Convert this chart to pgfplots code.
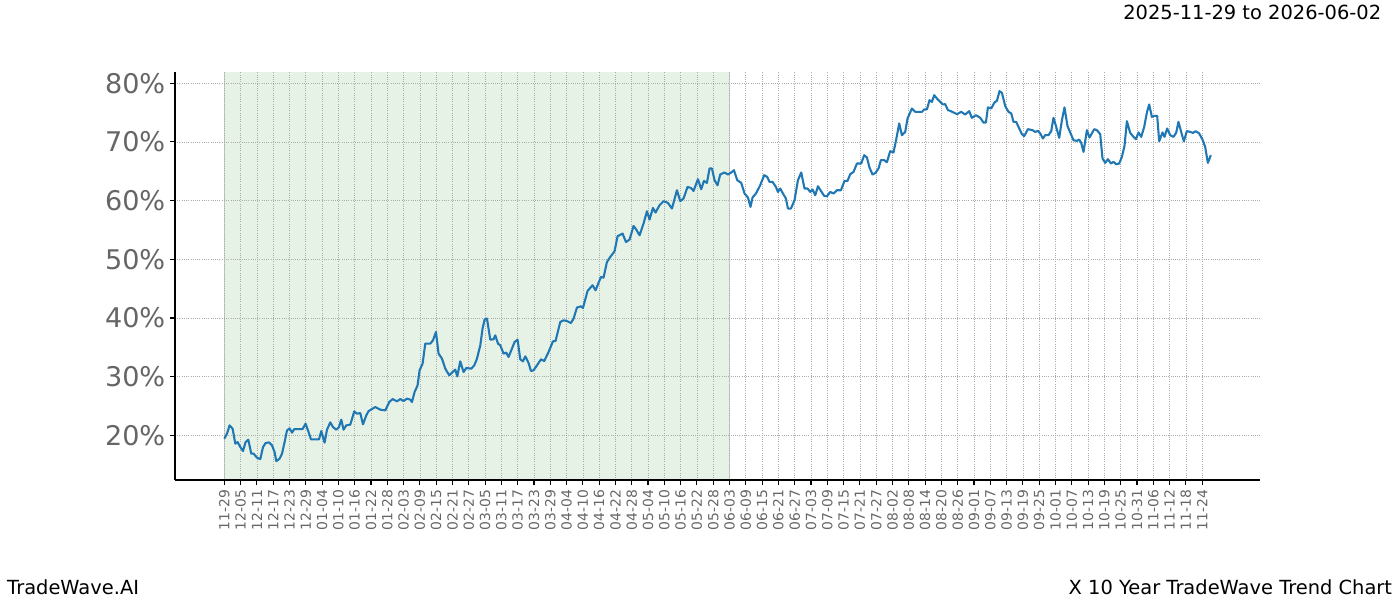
\documentclass[border=0pt]{standalone}
\usepackage{pgfplots}
\pgfplotsset{compat=1.18}
\usepackage{fontspec}
\setmainfont{DejaVu Sans}
\definecolor{trend}{HTML}{1F77B4}
\definecolor{shade}{RGB}{230,242,230}
\definecolor{lab}{RGB}{102,102,102}
\pgfplotstableread{
day val
0 19.44
0.99 20.29
1.95 21.71
3.06 21.14
4.05 18.59
4.90 18.86
5.89 18.01
6.88 17.33
7.84 18.86
8.83 19.27
9.94 16.88
10.79 16.88
12.04 16.20
13.25 15.96
14.25 18.01
15.20 18.69
16.45 18.81
17.56 18.30
18.52 17.15
19.14 15.62
20.36 16.03
21.24 16.88
22.20 18.86
23.08 20.85
24.04 21.19
24.92 20.46
25.77 21.08
27.35 21.08
28.82 21.08
29.93 22.00
31.03 20.56
31.91 19.32
33.50 19.32
34.86 19.32
35.71 20.73
36.92 18.76
37.80 20.97
39.02 22.22
40.01 21.42
41.23 20.97
42.22 21.42
43.07 22.68
43.91 20.97
44.91 21.71
46.38 21.83
47.85 24.09
48.85 23.70
50.06 23.80
51.06 21.88
52.27 23.41
53.12 24.14
55.58 24.83
57.42 24.38
59.27 24.26
60.74 25.68
61.95 26.19
63.57 25.80
64.79 26.19
66.00 25.85
67.25 26.26
68.47 26.09
69.09 25.68
70.05 27.38
71.15 28.52
71.89 31.08
73.00 32.22
73.99 35.63
75.83 35.63
76.82 36.19
77.93 37.61
78.88 33.93
80.14 33.07
81.35 31.37
82.82 30.23
84.04 30.79
85.03 31.20
85.77 30.06
86.87 32.61
88.09 30.79
89.08 31.47
90.92 31.37
92.03 31.93
93.02 33.07
94.24 35.34
95.08 38.19
95.82 39.72
96.70 39.89
97.92 36.31
99.13 36.36
99.76 37.05
100.75 35.63
101.60 35.34
102.81 33.93
103.81 34.10
104.65 33.35
105.90 34.78
106.86 35.90
107.97 36.31
108.96 32.96
109.95 32.61
110.80 33.47
112.02 32.33
112.90 30.96
113.86 31.08
115.11 31.93
116.58 32.96
117.79 32.67
119.38 34.20
120.99 36.02
121.95 36.08
123.68 39.31
124.90 39.60
126.15 39.48
127.62 39.14
128.58 39.89
129.83 41.77
131.30 41.99
132.04 41.70
133.73 44.60
135.57 45.57
136.68 44.72
138.66 46.98
139.62 46.88
140.87 49.54
142.09 50.39
143.67 51.36
144.78 53.92
146.62 54.38
147.87 52.95
149.20 53.36
150.67 55.68
151.66 55.06
152.88 54.09
154.35 56.09
155.60 58.18
156.56 56.77
157.81 58.74
158.77 57.96
160.24 59.21
161.71 59.89
163.33 59.60
164.80 58.64
166.64 61.76
167.86 59.89
169.07 60.35
170.54 62.32
171.79 62.15
172.75 61.64
174.37 63.64
175.58 61.93
176.58 63.35
177.68 63.01
178.64 65.46
179.52 65.46
180.48 63.47
181.58 62.61
182.58 64.44
184.16 64.78
185.41 64.44
186.63 64.78
187.62 65.17
188.84 63.47
190.31 63.01
191.53 61.20
192.78 60.52
193.73 58.92
194.47 60.52
195.72 61.20
197.30 62.61
198.77 64.32
199.88 64.03
200.72 63.18
201.83 63.18
203.08 62.32
203.81 61.47
204.66 62.05
205.66 61.20
206.76 60.35
207.50 58.64
208.60 58.64
209.93 60.06
211.18 63.47
212.40 64.78
213.61 62.05
214.72 62.05
215.72 61.47
216.56 61.88
217.56 60.91
218.55 62.44
219.65 61.64
220.87 60.79
221.86 60.74
223.08 61.47
224.29 61.20
225.54 61.76
227.01 61.76
228.34 63.35
229.44 63.35
230.43 64.49
231.65 64.88
232.90 66.31
234.48 66.31
235.58 67.73
236.58 67.34
237.53 65.63
238.64 64.44
239.74 64.71
240.85 65.46
241.73 66.88
242.94 66.88
243.94 66.53
245.15 68.41
246.37 68.19
247.36 70.40
248.47 73.13
249.46 71.14
250.68 71.70
251.53 73.98
253.15 75.69
254.36 75.11
255.58 75.11
256.83 75.11
257.68 75.52
258.67 75.52
259.63 77.10
260.51 76.81
261.36 77.95
262.35 77.39
263.57 76.81
264.56 76.37
265.41 76.42
266.40 75.40
267.25 75.28
269.72 74.72
271.30 75.11
272.77 74.66
274.24 75.23
275.23 74.09
276.71 74.55
278.29 74.09
279.50 73.30
280.39 73.30
281.12 75.86
282.34 75.69
283.55 76.71
284.44 76.98
285.40 78.64
286.28 78.35
287.50 76.08
288.71 75.11
289.71 74.84
290.55 73.40
291.54 73.40
292.65 72.28
293.64 71.31
294.49 70.97
295.85 72.16
297.54 71.99
298.54 71.70
299.53 71.87
300.38 71.43
301.37 70.57
302.22 71.14
303.43 71.14
304.43 71.82
305.27 74.09
306.27 72.55
307.37 70.68
308.37 73.69
309.32 75.86
310.43 72.67
311.42 71.60
312.64 70.28
313.89 70.17
314.74 70.40
315.47 69.82
316.32 68.29
317.57 71.99
318.53 70.74
320.26 72.16
321.25 71.99
322.47 71.31
323.31 67.17
324.31 66.42
325.30 67.05
326.40 66.31
327.36 66.59
328.35 66.19
329.46 66.31
330.45 67.44
331.41 69.31
332.29 73.52
333.51 71.53
334.72 70.85
335.61 70.45
336.56 71.60
337.56 70.85
338.66 72.55
339.66 75.01
340.50 76.37
341.49 74.26
342.45 74.43
343.44 74.43
344.18 70.11
345.39 71.60
346.13 70.85
347.12 72.28
348.22 71.14
349.44 70.85
350.43 71.53
351.28 73.40
352.53 71.26
353.27 70.11
354.37 71.82
355.58 71.70
356.58 71.53
357.68 71.82
358.90 71.43
360.11 70.40
361.11 69.14
362.10 66.42
363.21 67.73
}\trenddata
\begin{document}
\begin{tikzpicture}
\path (0pt,0pt) rectangle (1008pt,432pt);
\begin{axis}[
  set layers,
  at={(126pt,86.4pt)}, anchor=south west,
  width=781.2pt, height=293.76pt, scale only axis,
  xmin=-18.15, xmax=381.3, ymin=12.4, ymax=81.9,
  axis x line*=bottom, axis y line*=left,
  axis line style={black, line width=0.8pt},
  tick align=outside, major tick length=3.5pt,
  tick style={black, line width=0.8pt},
  xtick={0,6,...,360},
  xticklabels={11-29,12-05,12-11,12-17,12-23,12-29,01-04,01-10,01-16,01-22,01-28,02-03,02-09,02-15,02-21,02-27,03-05,03-11,03-17,03-23,03-29,04-04,04-10,04-16,04-22,04-28,05-04,05-10,05-16,05-22,05-28,06-03,06-09,06-15,06-21,06-27,07-03,07-09,07-15,07-21,07-27,08-02,08-08,08-14,08-20,08-26,09-01,09-07,09-13,09-19,09-25,10-01,10-07,10-13,10-19,10-25,10-31,11-06,11-12,11-18,11-24},
  ytick={20,30,40,50,60,70,80},
  yticklabels={20\%,30\%,40\%,50\%,60\%,70\%,80\%},
  x tick label style={rotate=90, anchor=east, font=\fontsize{10}{12}\selectfont, text=lab},
  y tick label style={font=\fontsize{19.5}{23}\selectfont, text=lab},
  grid=major,
  major grid style={gray!65, dash pattern=on 0.6pt off 1pt, line width=0.5pt},
]
\addplot[on layer=axis background, fill=shade, draw=none] coordinates {(0,12.4) (186,12.4) (186,81.9) (0,81.9) (0,12.4)};
\addplot[on layer=axis background, draw=black!20, line width=1pt] coordinates {(0,12.4) (0,81.9)};
\addplot[on layer=axis background, draw=black!20, line width=1pt] coordinates {(186,12.4) (186,81.9)};
\addplot[trend, line width=1.5pt, line join=round] table[x=day, y=val] {\trenddata};
\end{axis}
\node[anchor=east, font=\fontsize{14}{17}\selectfont] at (998pt,423.4pt) {2025-11-29 to 2026-06-02};
\node[anchor=west, font=\fontsize{14}{17}\selectfont, inner sep=0pt] at (5pt,9.4pt) {TradeWave.AI};
\node[anchor=east, font=\fontsize{14}{17}\selectfont, inner sep=0pt] at (1002.5pt,9.4pt) {X 10 Year TradeWave Trend Chart};
\pgfresetboundingbox
\path (0pt,0pt) rectangle (1008pt,432pt);
\end{tikzpicture}
\end{document}
